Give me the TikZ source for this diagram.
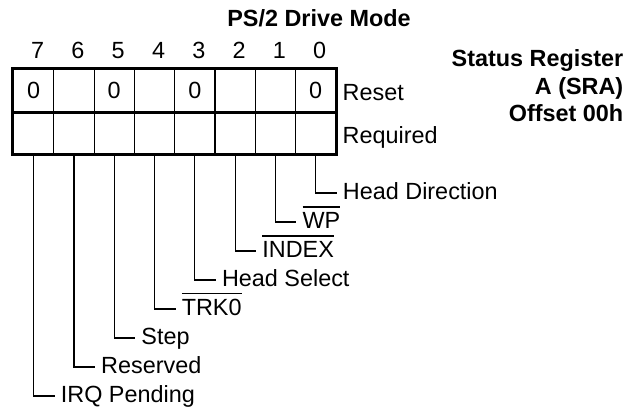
\documentclass[tikz,border=0pt]{standalone}
\usepackage{fontspec}
\setmainfont{Liberation Sans}
\newcommand\barred[1]{\setbox0\hbox{#1}\rlap{\rule[\dimexpr\ht0+4.8pt\relax]{\wd0}{1.3pt}}\box0}
\begin{document}
\begin{tikzpicture}[x=1pt,y=-1pt,
  font=\fontsize{23.4}{28}\selectfont,
  cell/.style={draw, line width=1.1pt, minimum width=40.3pt, minimum height=42.2pt, inner sep=0pt},
  bitnum/.style={anchor=base, inner sep=0pt},
  field/.style={anchor=west, inner xsep=6pt, inner ysep=0pt, text height=16.8pt, text depth=4pt},
  rowlbl/.style={anchor=base west, inner sep=0pt},
  boldlbl/.style={inner sep=0pt, font=\fontsize{23.4}{28}\selectfont\bfseries},
  leader/.style={line width=1.1pt},
  heavy/.style={line width=3pt}]
\useasboundingbox (0,0) rectangle (636,412);

% title
\node[boldlbl, anchor=base] (title) at (319,26.7) {PS/2 Drive Mode};
\node[boldlbl, anchor=base east] (s1) at (623.5,66.7) {Status Register};
\node[boldlbl, anchor=base east] (s2) at (623.5,94) {A (SRA)};
\node[boldlbl, anchor=base east] (s3) at (623.5,121.3) {Offset 00h};

% cells and bit numbers
\foreach \b/\v [evaluate=\b as \cx using 13.5+40.3*(7.5-\b)] in {0/0,1/,2/,3/0,4/,5/0,6/,7/0} {
  \node[cell] (r\b) at (\cx,90.5) {\v};
  \node[cell] (q\b) at (\cx,132.75) {};
  \node[bitnum] (n\b) at (\cx+4,58) {\b};
}
\draw[heavy] (r7.north west) rectangle (q0.south east);
\draw[heavy] (r7.south west) -- (r0.south east);

% row labels
\node[rowlbl] (reset) at (342.5,100.7) {Reset};
\node[rowlbl] (req) at (342.5,143) {Required};

% field labels and leaders
\foreach \b/\y/\t [evaluate=\b as \lx using 13.5+40.3*(7.5-\b)+21] in
  {0/193/Head Direction, 1/222/\barred{WP}, 2/251/\barred{INDEX}, 3/280/Head Select,
   4/309/\barred{TRK0}, 5/338/Step, 6/367/Reserved, 7/396/IRQ Pending} {
  \node[field] (l\b) at (\lx,\y) {\t};
  \draw[leader] (q\b.south) |- (l\b.west);
}
\end{tikzpicture}
\end{document}
